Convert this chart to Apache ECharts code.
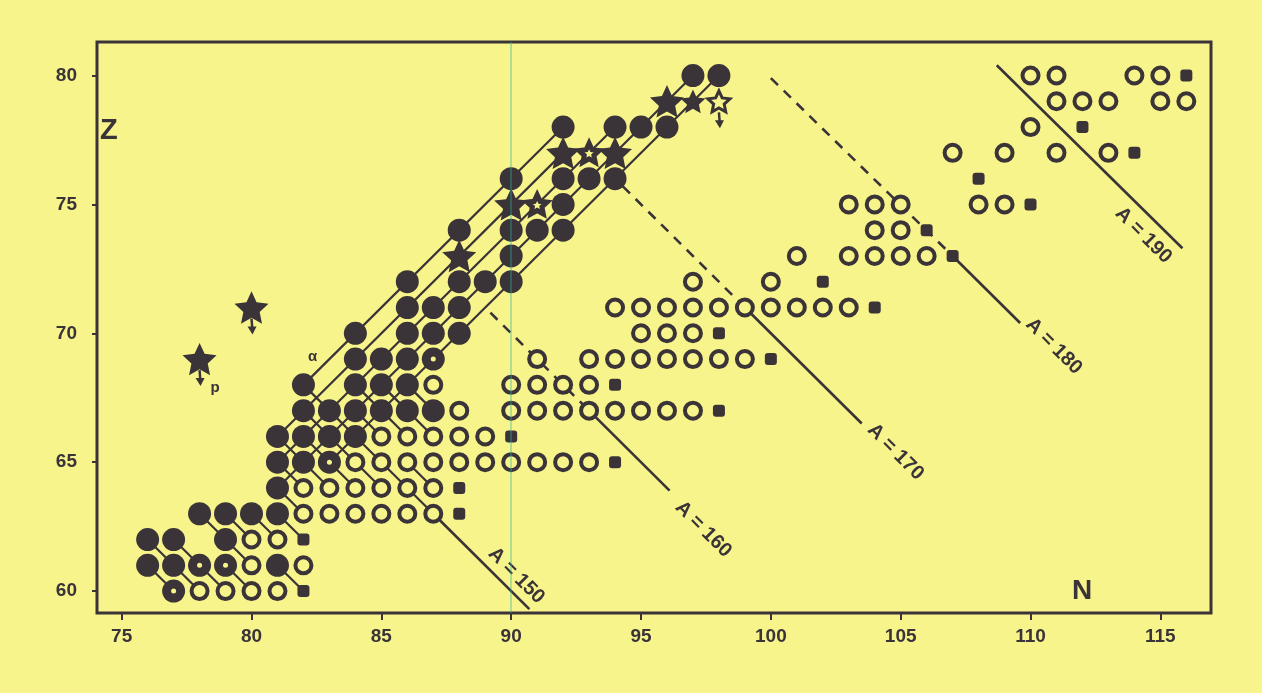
<!DOCTYPE html>
<html><head><meta charset="utf-8">
<script src="https://cdn.jsdelivr.net/npm/echarts@6/dist/echarts.min.js"></script>
<style>html,body{margin:0;padding:0;background:#f8f48c;}#c{width:1262px;height:693px;}</style>
</head><body><div id="c"></div>
<script>
// ---- axis ticks ----
const xTicks = [75, 80, 85, 90, 95, 100, 105, 110, 115];
const yTicks = [60, 65, 70, 75, 80];

// ---- nuclides, rows of [Z, [N...]] ----
const filledRows = [
  [80, [97, 98]], [78, [92, 94, 95, 96]], [76, [90, 92, 93, 94]], [75, [92]],
  [74, [88, 90, 91, 92]], [73, [90]], [72, [86, 88, 89, 90]], [71, [86, 87, 88]],
  [70, [84, 86, 87, 88]], [69, [84, 85, 86]], [68, [82, 84, 85, 86]],
  [67, [82, 83, 84, 85, 86, 87]], [66, [81, 82, 83, 84]], [65, [81, 82]], [64, [81]],
  [63, [78, 79, 80, 81]], [62, [76, 77, 79]], [61, [76, 77, 81]]
];
const dottedRows = [[69, [87]], [65, [83]], [61, [78, 79]], [60, [77]]];
const openRows = [
  [80, [110, 111, 114, 115]], [79, [111, 112, 113, 115, 116]], [78, [110]],
  [77, [107, 109, 111, 113]], [75, [103, 104, 105, 108, 109]], [74, [104, 105]],
  [73, [101, 103, 104, 105, 106]], [72, [97, 100]],
  [71, [94, 95, 96, 97, 98, 99, 100, 101, 102, 103]], [70, [95, 96, 97]],
  [69, [91, 93, 94, 95, 96, 97, 98, 99]], [68, [87, 90, 91, 92, 93]],
  [67, [88, 90, 91, 92, 93, 94, 95, 96, 97]], [66, [85, 86, 87, 88, 89]],
  [65, [84, 85, 86, 87, 88, 89, 90, 91, 92, 93]], [64, [82, 83, 84, 85, 86, 87]],
  [63, [82, 83, 84, 85, 86, 87]], [62, [80, 81]], [61, [80, 82]], [60, [78, 79, 80, 81]]
];
const squareRows = [
  [80, [116]], [78, [112]], [77, [114]], [76, [108]], [75, [110]], [74, [106]], [73, [107]],
  [72, [102]], [71, [104]], [70, [98]], [69, [100]], [68, [94]], [67, [98]], [66, [90]],
  [65, [94]], [64, [88]], [63, [88]], [62, [82]], [60, [82]]
];
// stars [N, Z]
const bigStars = [[78, 69], [80, 71], [88, 73], [90, 75], [92, 77], [94, 77], [96, 79]];
const smallStars = [[97, 79]];
const thickOpenStars = [[91, 75], [93, 77]];
const openStars = [[98, 79]];
const protonArrows = [[78, 69], [80, 71], [98, 79]];

// alpha-decay chains: [N-Z, first N, last N]
const alphaChains = [[14, 82, 92], [15, 81, 92], [16, 81, 94], [17, 81, 97], [18, 83, 98]];
// beta links: from [N, Z] to [N+1, Z-1]
const betaStarts = [
  [81, 64], [78, 63], [79, 63], [80, 63], [81, 63], [76, 62], [77, 62], [79, 62],
  [76, 61], [77, 61], [78, 61], [79, 61], [81, 61],
  [82, 68], [84, 68], [85, 68], [86, 68], [82, 67], [83, 67], [84, 67], [85, 67], [86, 67],
  [81, 66], [82, 66], [83, 66], [84, 66], [81, 65], [82, 65], [83, 65], [84, 65], [85, 65],
  [86, 65], [86, 64]
];
// isobar lines [[N1,Z1],[N2,Z2]]
const isobarSolid = [
  [[87, 63], [90.7, 59.3]], [[93, 67], [96.1, 63.9]], [[99, 71], [103.5, 66.5]],
  [[107, 73], [109.6, 70.4]], [[108.7, 80.4], [115.85, 73.3]]
];
const isobarDashed = [
  [[89.2, 70.8], [93, 67]], [[94.3, 75.7], [99, 71]], [[100, 79.9], [107, 73]]
];
const isobarLabels = [
  ['A = 150', 90.2, 60.6], ['A = 160', 97.4, 62.4], ['A = 170', 104.8, 65.4],
  ['A = 180', 110.9, 69.5], ['A = 190', 114.35, 73.8]
];
const smallLabels = [['α', 82.35, 69.1], ['p', 78.6, 67.9]];

// ---- styles ----
const BG = '#f8f48c';
const INK = '#3a3337';
const FONT = 'Liberation Sans';
const STAR = 'path://M50,0 L64.11,30.58 L97.55,34.55 L72.83,57.42 L79.39,90.45 L50,74 L20.61,90.45 L27.17,57.42 L2.45,34.55 L35.89,30.58 Z';

function expand(rows) {
  const out = [];
  rows.forEach(([z, ns]) => ns.forEach(n => out.push([n, z])));
  return out;
}

const chart = echarts.init(document.getElementById('c'), null, { renderer: 'canvas' });

const labelSeries = (items, size, rotate) => ({
  type: 'scatter', z: 8, symbol: 'circle', symbolSize: 0, silent: true,
  itemStyle: { color: 'transparent', opacity: 1 },
  data: items.map(([t, n, z]) => ({ name: t, value: [n, z] })),
  label: { show: true, position: 'inside', formatter: '{b}', rotate: rotate, color: INK, fontSize: size, fontWeight: 'bold', fontFamily: FONT }
});

const option = {
  backgroundColor: BG,
  animation: false,
  grid: { left: 97, right: 51, top: 42, bottom: 80, show: true, borderColor: INK, borderWidth: 3, backgroundColor: 'transparent' },
  xAxis: {
    type: 'value', min: 74.05, max: 116.95,
    splitLine: { show: false }, axisLine: { show: false },
    axisTick: { show: true, customValues: xTicks, length: 7, lineStyle: { color: INK, width: 2 } },
    axisLabel: { customValues: xTicks, color: INK, fontSize: 19, fontWeight: 'bold', fontFamily: FONT, margin: 14 }
  },
  yAxis: {
    type: 'value', min: 59.15, max: 81.3,
    splitLine: { show: false }, axisLine: { show: false },
    axisTick: { show: true, customValues: yTicks, length: 5, lineStyle: { color: INK, width: 2 } },
    axisLabel: { customValues: yTicks, color: INK, fontSize: 19, fontWeight: 'bold', fontFamily: FONT, margin: 20 }
  },
  graphic: [
    { type: 'text', left: 100, top: 116, style: { text: 'Z', fill: INK, font: 'bold 29px ' + FONT } },
    { type: 'text', left: 1072, top: 577, style: { text: 'N', fill: INK, font: 'bold 28px ' + FONT } }
  ],
  series: [
    {
      type: 'lines', coordinateSystem: 'cartesian2d', z: 2, silent: true,
      lineStyle: { color: INK, width: 2.2, opacity: 1 },
      data: alphaChains.map(([d, n1, n2]) => ({ coords: [[n1, n1 - d], [n2, n2 - d]] }))
    },
    {
      type: 'lines', coordinateSystem: 'cartesian2d', z: 2, silent: true,
      lineStyle: { color: INK, width: 2.2, opacity: 1 },
      data: betaStarts.map(([n, z]) => ({ coords: [[n, z], [n + 1, z - 1]] }))
    },
    {
      type: 'lines', coordinateSystem: 'cartesian2d', z: 2, silent: true,
      lineStyle: { color: INK, width: 2.6, opacity: 1 },
      data: isobarSolid.map(c => ({ coords: c }))
    },
    {
      type: 'lines', coordinateSystem: 'cartesian2d', z: 2, silent: true,
      lineStyle: { color: INK, width: 2.6, opacity: 1, type: [10, 8] },
      data: isobarDashed.map(c => ({ coords: c }))
    },
    {
      type: 'scatter', z: 5, symbol: 'circle', symbolSize: 23,
      itemStyle: { color: INK, opacity: 1 }, data: expand(filledRows).concat(expand(dottedRows))
    },
    {
      type: 'scatter', z: 6, symbol: 'circle', symbolSize: 5,
      itemStyle: { color: BG, opacity: 1 }, data: expand(dottedRows)
    },
    {
      type: 'scatter', z: 5, symbol: 'circle', symbolSize: 16,
      itemStyle: { color: BG, borderColor: INK, borderWidth: 4, opacity: 1 }, data: expand(openRows)
    },
    {
      type: 'scatter', z: 5, symbol: 'roundRect', symbolSize: 12,
      itemStyle: { color: INK, opacity: 1 }, data: expand(squareRows)
    },
    {
      type: 'scatter', z: 7, symbol: STAR, symbolKeepAspect: true, symbolSize: 34,
      itemStyle: { color: INK, opacity: 1 }, data: bigStars
    },
    {
      type: 'scatter', z: 7, symbol: STAR, symbolKeepAspect: true, symbolSize: 25,
      itemStyle: { color: INK, opacity: 1 }, data: smallStars
    },
    {
      type: 'scatter', z: 7, symbol: STAR, symbolKeepAspect: true, symbolSize: 20,
      itemStyle: { color: BG, borderColor: INK, borderWidth: 5, opacity: 1 }, data: thickOpenStars
    },
    {
      type: 'scatter', z: 7, symbol: STAR, symbolKeepAspect: true, symbolSize: 22,
      itemStyle: { color: BG, borderColor: INK, borderWidth: 3, opacity: 1 }, data: openStars
    },
    {
      type: 'custom', z: 6, silent: true, data: protonArrows,
      renderItem: function (params, api) {
        const p = api.coord([api.value(0), api.value(1)]);
        return {
          type: 'group', children: [
            { type: 'line', shape: { x1: p[0], y1: p[1] + 11, x2: p[0] + 1, y2: p[1] + 24 }, style: { stroke: INK, lineWidth: 2.5 } },
            { type: 'polygon', shape: { points: [[p[0] - 4, p[1] + 19], [p[0] + 5, p[1] + 19], [p[0] + 1, p[1] + 27]] }, style: { fill: INK } }
          ]
        };
      }
    },
    labelSeries(isobarLabels, 20, -45),
    labelSeries(smallLabels, 15, 0),
    {
      type: 'lines', coordinateSystem: 'cartesian2d', z: 9, silent: true,
      lineStyle: { color: 'rgba(40,180,160,0.35)', width: 2, opacity: 1 },
      data: [{ coords: [[90, 59.15], [90, 81.3]] }]
    }
  ]
};
chart.setOption(option);
</script>
</body></html>
